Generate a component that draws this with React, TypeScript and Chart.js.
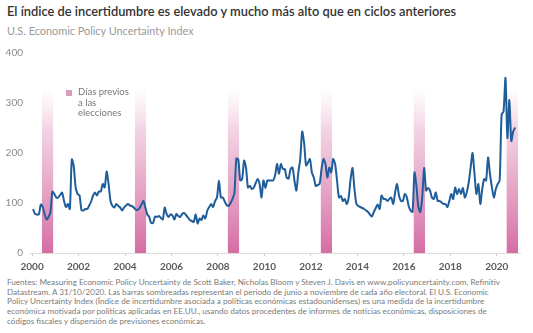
import React, { useEffect, useRef } from "react";
import { Chart, registerables } from "chart.js";

Chart.register(...registerables);

const titleText = "El índice de incertidumbre es elevado y mucho más alto que en ciclos anteriores";
const subtitleText = "U.S. Economic Policy Uncertainty Index";
const legendLines = ["Días previos", "a las", "elecciones"];
const footnoteLines = [
  "Fuentes: Measuring Economic Policy Uncertainty de Scott Baker, Nicholas Bloom y Steven J. Davis en www.policyuncertainty.com, Refinitiv",
  "Datastream. A 31/10/2020. Las barras sombreadas representan el periodo de junio a noviembre de cada año electoral. El U.S. Economic",
  "Policy Uncertainty Index (Índice de incertidumbre asociada a políticas económicas estadounidenses) es una medida de la incertidumbre",
  "económica motivada por políticas aplicadas en EE.UU., usando datos procedentes de informes de noticias económicas, disposiciones de",
  "códigos fiscales y dispersión de previsiones económicas.",
];

// Monthly index values
const startYear = 2000;
const epu2000 = [88, 78, 77, 77, 97, 92, 77, 67, 72, 82, 123, 118];
const epu2001 = [111, 111, 116, 121, 104, 92, 98, 88, 187, 174, 131, 118];
const epu2002 = [115, 86, 85, 88, 88, 95, 103, 115, 121, 115, 123, 123];
const epu2003 = [138, 131, 163, 138, 104, 94, 91, 98, 94, 91, 85, 91];
const epu2004 = [95, 98, 95, 94, 91, 87, 86, 90, 97, 104, 91, 77];
const epu2005 = [72, 60, 60, 73, 72, 74, 70, 67, 91, 78, 72, 77];
const epu2006 = [75, 67, 78, 74, 72, 78, 80, 76, 71, 66, 64, 62];
const epu2007 = [77, 59, 69, 66, 75, 69, 85, 92, 98, 92, 104, 111];
const epu2008 = [145, 111, 111, 103, 96, 94, 100, 108, 120, 189, 187, 145];
const epu2009 = [148, 185, 170, 131, 134, 128, 131, 140, 148, 138, 111, 145];
const epu2010 = [130, 145, 145, 145, 145, 155, 178, 158, 178, 168, 168, 151];
const epu2011 = [149, 168, 171, 145, 125, 161, 188, 243, 220, 175, 181, 188];
const epu2012 = [161, 151, 134, 136, 138, 168, 188, 178, 151, 171, 161, 188];
const epu2013 = [178, 145, 111, 114, 104, 108, 98, 111, 148, 170, 128, 98];
const epu2014 = [94, 92, 90, 88, 85, 82, 77, 73, 82, 90, 97, 88];
const epu2015 = [115, 108, 108, 104, 108, 111, 98, 121, 138, 115, 104, 104];
const epu2016 = [118, 112, 94, 85, 82, 161, 134, 92, 82, 111, 170, 125];
const epu2017 = [130, 125, 111, 108, 121, 104, 104, 101, 98, 98, 92, 104];
const epu2018 = [118, 108, 131, 118, 128, 118, 130, 111, 121, 141, 171, 200];
const epu2019 = [158, 118, 138, 98, 128, 148, 145, 191, 158, 131, 111, 128];
const epu2020 = [138, 145, 277, 283, 350, 230, 306, 224, 243, 251];
const epuByYear = [
  epu2000, epu2001, epu2002, epu2003, epu2004, epu2005, epu2006,
  epu2007, epu2008, epu2009, epu2010, epu2011, epu2012, epu2013,
  epu2014, epu2015, epu2016, epu2017, epu2018, epu2019, epu2020,
];

// Election-year shading: June to November
const electionYears = [2000, 2004, 2008, 2012, 2016, 2020];
const bandStartMonth = 5;
const bandEndMonth = 11;
const bandTop = 330;

const xTickYears = [2000, 2002, 2004, 2006, 2008, 2010, 2012, 2014, 2016, 2018, 2020];
const yTickValues = [0, 100, 200, 300, 400];
const xMin = 1999.91;
const xMax = 2021;
const yMin = 0;
const yMax = 400;

const FONT = "Lato, 'Open Sans', sans-serif";

function bandGradient(chart: any) {
  const { ctx, chartArea, scales } = chart;
  if (!chartArea || !scales || !scales.y) return "rgba(214,110,165,0.5)";
  const y0 = scales.y.getPixelForValue(0);
  const y1 = scales.y.getPixelForValue(bandTop);
  const g = ctx.createLinearGradient(0, y0, 0, y1);
  g.addColorStop(0, "rgba(210,96,155,0.92)");
  g.addColorStop(0.45, "rgba(216,118,170,0.6)");
  g.addColorStop(0.75, "rgba(222,140,182,0.38)");
  g.addColorStop(1, "rgba(232,170,200,0)");
  return g;
}

export default function App() {
  const canvasRef = useRef<HTMLCanvasElement | null>(null);

  useEffect(() => {
    if (!canvasRef.current) return;
    const points = epuByYear.flatMap((vals, yi) =>
      vals.map((v, mi) => ({ x: startYear + yi + (mi + 0.5) / 12, y: v }))
    );
    const bandSets = electionYears.map((yr) => ({
      type: "line" as const,
      data: [
        { x: yr + bandStartMonth / 12, y: bandTop },
        { x: yr + bandEndMonth / 12, y: bandTop },
      ],
      fill: "origin",
      borderWidth: 0,
      borderColor: "rgba(0,0,0,0)",
      pointRadius: 0,
      tension: 0,
      order: 2,
      backgroundColor: (c: any) => bandGradient(c.chart),
    }));

    const chart = new Chart(canvasRef.current, {
      type: "line",
      data: {
        datasets: [
          {
            label: "EPU",
            data: points,
            borderColor: "#1f5e9b",
            borderWidth: 2,
            pointRadius: 0,
            tension: 0.25,
            fill: false,
            order: 0,
          } as any,
          ...(bandSets as any[]),
        ],
      },
      options: {
        animation: false,
        responsive: true,
        maintainAspectRatio: false,
        layout: { padding: { left: 0, right: 13, top: 11, bottom: 0 } },
        plugins: {
          legend: { display: false },
          tooltip: { enabled: false },
          title: { display: false },
        },
        scales: {
          x: {
            type: "linear",
            min: xMin,
            max: xMax,
            afterBuildTicks: (scale: any) => {
              scale.ticks = xTickYears.map((v) => ({ value: v }));
            },
            afterFit: (scale: any) => {
              scale.height = 23;
            },
            ticks: {
              autoSkip: false,
              maxRotation: 0,
              padding: 5,
              color: "#5a5a5a",
              font: { family: FONT, size: 10, weight: "bold" },
              callback: (v: any) => String(v),
            },
            grid: {
              drawOnChartArea: false,
              drawTicks: true,
              tickLength: 3,
              color: "#cfcfcf",
            },
            border: { display: true, color: "#dcdcdc", width: 1 },
          },
          y: {
            type: "linear",
            min: yMin,
            max: yMax,
            afterBuildTicks: (scale: any) => {
              scale.ticks = yTickValues.map((v) => ({ value: v }));
            },
            afterFit: (scale: any) => {
              scale.width = 30;
            },
            ticks: {
              padding: 7,
              color: "#8a8a8a",
              font: { family: FONT, size: 10 },
              callback: (v: any) => String(v),
            },
            grid: { display: false, drawTicks: false },
            border: { display: false },
          },
        },
      } as any,
    });
    return () => chart.destroy();
  }, []);

  return (
    <div
      style={{
        position: "absolute",
        left: 0,
        top: 0,
        width: 533,
        height: 333,
        background: "#ffffff",
        fontFamily: FONT,
        overflow: "hidden",
      }}
    >
      <div
        style={{
          position: "absolute",
          left: 7,
          top: 3,
          fontSize: 12.85,
          fontWeight: 600,
          color: "#333333",
          whiteSpace: "nowrap",
        }}
      >
        {titleText}
      </div>
      <div
        style={{
          position: "absolute",
          left: 7,
          top: 24,
          fontSize: 10.9,
          color: "#9a9a9a",
          whiteSpace: "nowrap",
        }}
      >
        {subtitleText}
      </div>
      <div style={{ position: "absolute", left: 0, top: 40, width: 533, height: 236 }}>
        <canvas ref={canvasRef} />
      </div>
      <div style={{ position: "absolute", left: 66, top: 87 }}>
        <div
          style={{
            position: "absolute",
            left: 0,
            top: 3,
            width: 6,
            height: 6,
            background: "#dc9cbf",
          }}
        />
        <div
          style={{
            position: "absolute",
            left: 12,
            top: 0,
            fontSize: 9.5,
            lineHeight: "10.5px",
            color: "#777777",
            whiteSpace: "nowrap",
          }}
        >
          {legendLines.map((l, i) => (
            <div key={i}>{l}</div>
          ))}
        </div>
      </div>
      <div
        style={{
          position: "absolute",
          left: 7,
          top: 278,
          fontSize: 8.15,
          lineHeight: "9.7px",
          color: "#7a7a7a",
          whiteSpace: "nowrap",
        }}
      >
        {footnoteLines.map((l, i) => (
          <div key={i}>{l}</div>
        ))}
      </div>
    </div>
  );
}
